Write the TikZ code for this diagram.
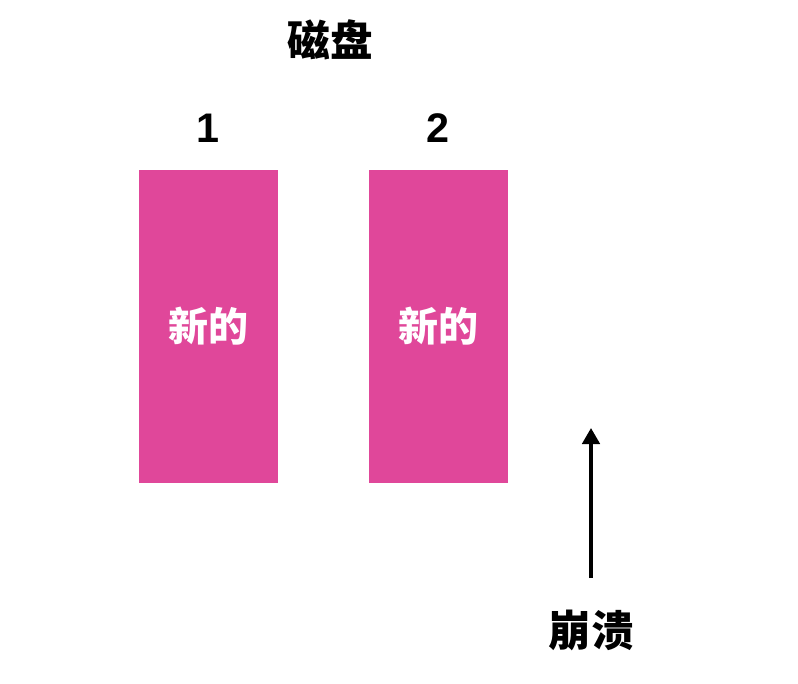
\documentclass[tikz,border=0pt]{standalone}
\usepackage{fontspec}
\setmainfont{Liberation Sans}
\newfontfamily\cjk{Noto Sans CJK SC}
\usetikzlibrary{arrows.meta}
\definecolor{diskpink}{HTML}{E0479A}

\begin{document}
\begin{tikzpicture}[x=0.75pt,y=-0.75pt,
	disk/.style={rectangle, fill=diskpink, minimum width=104.25pt, minimum height=234.75pt, inner sep=0pt, text=white, font=\cjk\bfseries\fontsize{30}{30}\selectfont},
	num/.style={font=\bfseries\fontsize{31}{31}\selectfont},
	title/.style={font=\cjk\bfseries\fontsize{32}{32}\selectfont}]

	\useasboundingbox (0,0) rectangle (798,684);

	\node[title] (head) at (330,40) {磁盘};
	\node[disk] (d1) at (208.5,326.5) {新的};
	\node[disk] (d2) at (438.5,326.5) {新的};
	\node[num] (n1) at (208,128) {1};
	\node[num] (n2) at (438,128) {2};

	\node[title] (crash) at (591,630) {崩溃};
	\coordinate (tail) at (591,578);
	\coordinate (tip) at (591,428);
	\draw[line width=2.7pt, -{Triangle[width=13pt,length=12pt]}] (tail) -- (tip);

\end{tikzpicture}
\end{document}
